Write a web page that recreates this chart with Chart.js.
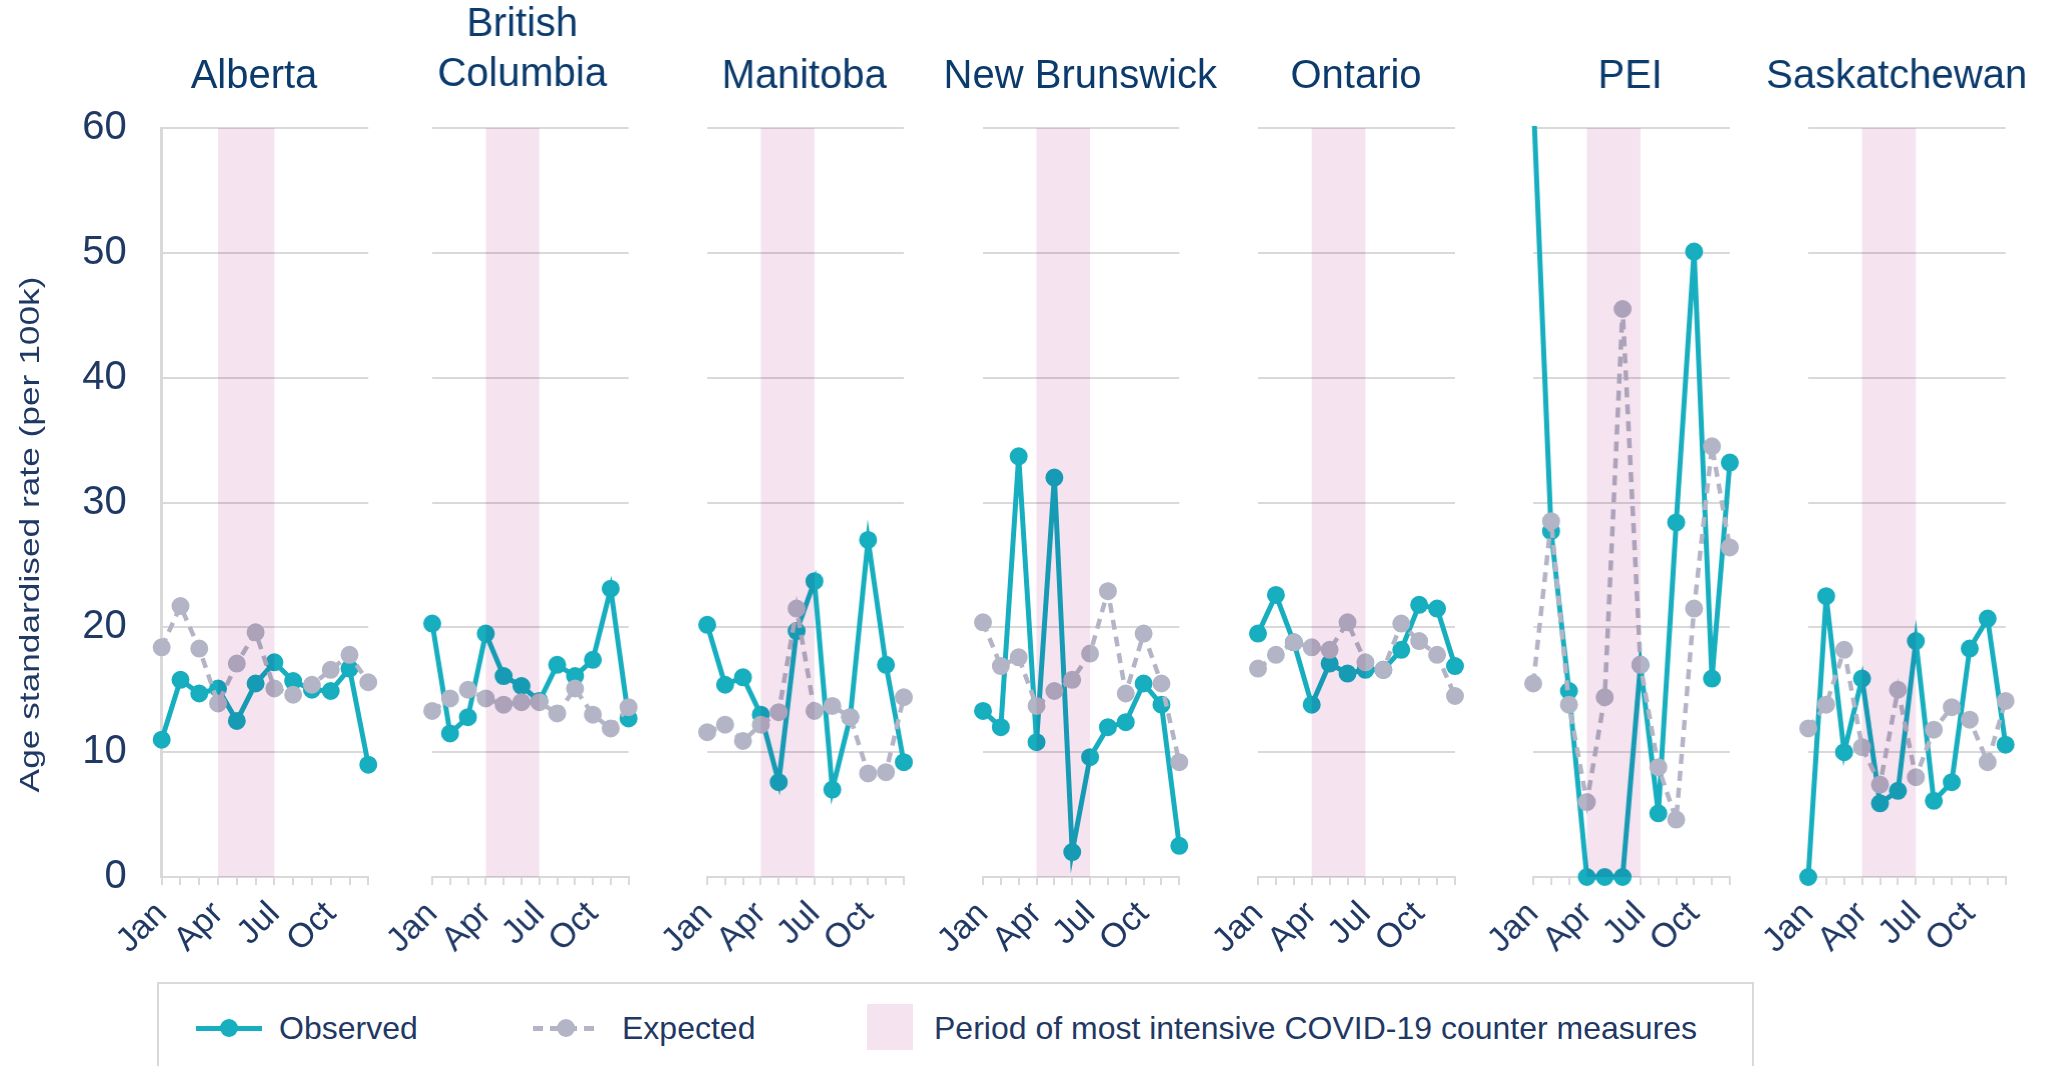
<!DOCTYPE html>
<html>
<head>
<meta charset="utf-8">
<script src="https://cdn.jsdelivr.net/npm/chart.js@4.4.1/dist/chart.umd.min.js"></script>
<style>
  body { margin: 0; background: #fff; width: 2053px; height: 1066px; overflow: hidden; position: relative;
         font-family: "Liberation Sans", Arial, sans-serif; }
  .panel { position: absolute; top: 0; height: 975px; }
  #legend { position: absolute; left: 157px; top: 982px; width: 1597px; height: 110px;
            border: 2px solid #d9d9d9; box-sizing: border-box; }
  #legend div, #legend span { position: absolute; }
  #legend span { font-size: 32px; line-height: 40px; top: 24px; color: #1f3864; white-space: nowrap; }
  .obs-line { left: 37px; top: 42px; width: 66px; height: 5px; background: #17aebf; }
  .obs-dot { left: 61px; top: 35px; width: 18px; height: 18px; border-radius: 50%; background: #17aebf; }
  .exp-line { left: 374px; top: 42px; width: 66px; height: 5px;
              background: repeating-linear-gradient(90deg, #b3b5c6 0 10px, transparent 10px 17px); }
  .exp-dot { left: 398px; top: 35px; width: 18px; height: 18px; border-radius: 50%; background: #b3b5c6; }
  .band-box { left: 708px; top: 20px; width: 46px; height: 46px; background: #f5e4f0; }
</style>
</head>
<body>

<div id="legend">
  <div class="obs-line"></div><div class="obs-dot"></div>
  <span style="left:120px">Observed</span>
  <div class="exp-line"></div><div class="exp-dot"></div>
  <span style="left:463px">Expected</span>
  <div class="band-box"></div>
  <span style="left:775px">Period of most intensive COVID-19 counter measures</span>
</div>

<script>
const months = ["Jan", "Feb", "Mar", "Apr", "May", "Jun", "Jul", "Aug", "Sep", "Oct", "Nov", "Dec"];
const tickLabels = ["Jan", "", "", "Apr", "", "", "Jul", "", "", "Oct", "", ""];
const bandStart = "Apr";
const bandEnd = "Jul";
const yTitle = "Age standardised rate (per 100k)";

const provinces = ["Alberta", ["British", "Columbia"], "Manitoba", "New Brunswick", "Ontario", "PEI", "Saskatchewan"];

const observedAlberta = [11.0, 15.8, 14.7, 15.1, 12.5, 15.5, 17.2, 15.7, 15.0, 14.9, 16.7, 9.0];
const expectedAlberta = [18.4, 21.7, 18.3, 13.9, 17.1, 19.6, 15.1, 14.6, 15.4, 16.6, 17.8, 15.6];
const observedBC = [20.3, 11.5, 12.8, 19.5, 16.1, 15.3, 14.1, 17.0, 16.1, 17.4, 23.1, 12.7];
const expectedBC = [13.3, 14.3, 15.0, 14.3, 13.8, 14.0, 14.0, 13.1, 15.1, 13.0, 11.9, 13.6];
const observedManitoba = [20.2, 15.4, 16.0, 13.0, 7.6, 19.7, 23.7, 7.0, 12.8, 27.0, 17.0, 9.2];
const expectedManitoba = [11.6, 12.2, 10.9, 12.2, 13.2, 21.5, 13.3, 13.7, 12.8, 8.3, 8.4, 14.4];
const observedNB = [13.3, 12.0, 33.7, 10.8, 32.0, 2.0, 9.6, 12.0, 12.4, 15.5, 13.8, 2.5];
const expectedNB = [20.4, 16.9, 17.6, 13.7, 14.9, 15.8, 17.9, 22.9, 14.7, 19.5, 15.5, 9.2];
const observedOntario = [19.5, 22.6, 18.8, 13.8, 17.1, 16.3, 16.6, 16.6, 18.2, 21.8, 21.5, 16.9];
const expectedOntario = [16.7, 17.8, 18.8, 18.4, 18.2, 20.4, 17.2, 16.6, 20.3, 18.9, 17.8, 14.5];
const observedPEI = [62.5, 27.7, 14.9, 0, 0, 0, 17.0, 5.1, 28.4, 50.1, 15.9, 33.2];
const expectedPEI = [15.5, 28.5, 13.8, 6.0, 14.4, 45.5, 17.0, 8.8, 4.6, 21.5, 34.5, 26.4];
const observedSask = [0, 22.5, 10.0, 15.9, 5.9, 6.9, 18.9, 6.1, 7.6, 18.3, 20.7, 10.6];
const expectedSask = [11.9, 13.8, 18.2, 10.4, 7.4, 15.0, 8.0, 11.8, 13.6, 12.6, 9.2, 14.1];

const observed = [observedAlberta, observedBC, observedManitoba, observedNB, observedOntario, observedPEI, observedSask];
const expected = [expectedAlberta, expectedBC, expectedManitoba, expectedNB, expectedOntario, expectedPEI, expectedSask];

// where each plot area and title sits on the page
const plotLeft = [161.7, 432.3, 707.3, 982.7, 1258, 1533.3, 1808.3];
const plotRight = [368.3, 628, 903.3, 1179, 1455, 1729.3, 2005];
const titleCenter = [254, 522, 804, 1080, 1356, 1630, 1896.5];
const plotTop = 128;
const plotBottom = 877;

const teal = "#17aebf";
const grey = "#b3b5c6";
const gridColor = "#d9d9d9";
const textColor = "#1f3864";
const titleColor = "#0b3a6c";
const font = '"Liberation Sans", Arial, sans-serif';

// pink band, multiplied over the lines like in the reference
const bandPlugin = {
    id: "band",
    afterDatasetsDraw(chart) {
        const { ctx, chartArea, scales: { x } } = chart;
        const x0 = x.getPixelForValue(months.indexOf(bandStart));
        const x1 = x.getPixelForValue(months.indexOf(bandEnd));
        ctx.save();
        ctx.globalCompositeOperation = "multiply";
        ctx.fillStyle = "#f5e4f0";
        ctx.fillRect(x0, chartArea.top, x1 - x0, chartArea.bottom - chartArea.top);
        ctx.restore();
    }
};

// the y title in the reference is a little stretched along its length
const yTitlePlugin = {
    id: "yTitle",
    afterDraw(chart) {
        const { ctx, chartArea } = chart;
        ctx.save();
        ctx.translate(31, (chartArea.top + chartArea.bottom) / 2 + 32);
        ctx.rotate(-Math.PI / 2);
        ctx.scale(1.26, 1);
        ctx.font = "28px " + font;
        ctx.fillStyle = textColor;
        ctx.textAlign = "center";
        ctx.textBaseline = "middle";
        ctx.fillText(yTitle, 0, 0);
        ctx.restore();
    }
};

function makePanel(i) {
    const first = i === 0;
    const plotW = plotRight[i] - plotLeft[i];
    const leftW = first ? plotLeft[0] : 70;
    const left = plotLeft[i] - leftW;
    const rightW = 2 * (titleCenter[i] - left) - leftW - plotW;
    const width = leftW + plotW + rightW;
    const twoLines = Array.isArray(provinces[i]);

    const wrap = document.createElement("div");
    wrap.className = "panel";
    wrap.style.left = left + "px";
    wrap.style.width = width + "px";
    const canvas = document.createElement("canvas");
    wrap.appendChild(canvas);
    document.body.appendChild(wrap);

    const cfg = {
        type: "line",
        data: {
            labels: months,
            datasets: [
                {
                    label: "Expected",
                    data: expected[i],
                    borderColor: grey,
                    backgroundColor: grey,
                    borderWidth: 4.5,
                    borderDash: [10, 7],
                    pointRadius: 8,
                    pointBorderWidth: 2,
                    tension: 0,
                    clip: { left: 20, right: 20, top: 2, bottom: 20 }
                },
                {
                    label: "Observed",
                    data: observed[i],
                    borderColor: teal,
                    backgroundColor: teal,
                    borderWidth: 5,
                    pointRadius: 8,
                    pointBorderWidth: 2,
                    tension: 0,
                    clip: { left: 20, right: 20, top: 2, bottom: 20 }
                }
            ]
        },
        options: {
            responsive: true,
            maintainAspectRatio: false,
            animation: false,
            devicePixelRatio: 1,
            layout: { padding: { left: 0, right: 0, top: 0, bottom: 0 } },
            plugins: {
                legend: { display: false },
                tooltip: { enabled: false },
                title: {
                    display: true,
                    text: provinces[i],
                    color: titleColor,
                    font: { family: font, size: 40, weight: "normal", lineHeight: 1.25 },
                    padding: { top: twoLines ? 0 : 52, bottom: 20 }
                }
            },
            scales: {
                x: {
                    offset: false,
                    grid: { drawOnChartArea: false, drawTicks: true, tickLength: 8, color: gridColor, lineWidth: 2 },
                    border: { display: true, color: gridColor, width: 2 },
                    ticks: {
                        autoSkip: false,
                        minRotation: 45,
                        maxRotation: 45,
                        padding: 9,
                        color: textColor,
                        font: { family: font, size: 34 },
                        callback: (v, idx) => tickLabels[idx]
                    }
                },
                y: {
                    min: 0,
                    max: 60,
                    grid: { color: gridColor, lineWidth: 2, drawTicks: false },
                    border: { display: first, color: gridColor, width: 3 },
                    ticks: {
                        display: first,
                        stepSize: 10,
                        padding: 35,
                        color: textColor,
                        font: { family: font, size: 40 }
                    },
                    afterFit: (scale) => { scale.width = leftW; }
                },
                // empty axis that only keeps room on the right so the title centres like the reference
                yRight: {
                    position: "right",
                    grid: { display: false },
                    border: { display: false },
                    ticks: { display: false },
                    afterFit: (scale) => { scale.width = rightW; }
                }
            }
        },
        plugins: first ? [bandPlugin, yTitlePlugin] : [bandPlugin]
    };

    const chart = new Chart(canvas, cfg);

    // nudge top and bottom so the plot area lands where it is in the reference
    const a = chart.chartArea;
    cfg.options.layout.padding.bottom += a.bottom - plotBottom;
    cfg.options.plugins.title.padding.bottom += plotTop - a.top;
    chart.update("none");
}

provinces.forEach((p, i) => makePanel(i));
</script>
</body>
</html>
